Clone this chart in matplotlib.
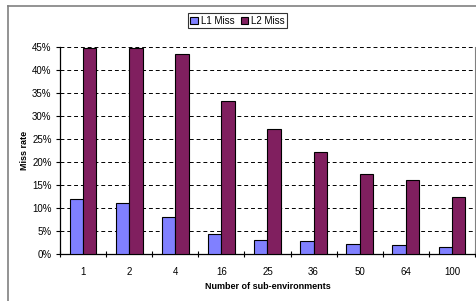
import numpy as np
import matplotlib
matplotlib.use("Agg")
import matplotlib.pyplot as plt
from matplotlib.lines import Line2D

plt.rcParams['font.family'] = ['Liberation Sans', 'DejaVu Sans']

# data
categories = ['1', '2', '4', '16', '25', '36', '50', '64', '100']
l1_miss = [12.0, 11.2, 8.1, 4.3, 3.2, 2.9, 2.2, 2.1, 1.6]
l2_miss = [44.8, 44.8, 43.5, 33.2, 27.2, 22.3, 17.5, 16.2, 12.4]

fig = plt.figure(figsize=(4.77, 3.01), dpi=100)
ax = fig.add_axes([60/477, 1 - 254.3/301, 415/477, 207.3/301])

x = np.arange(len(categories))
w = 0.29
ax.bar(x - w/2, l1_miss, w, color='#8080FF', edgecolor='black', linewidth=0.8, label='L1 Miss', zorder=3)
ax.bar(x + w/2, l2_miss, w, color='#801F5F', edgecolor='black', linewidth=0.8, label='L2 Miss', zorder=3)

ax.set_xlim(-0.5, len(categories) - 0.5)
ax.set_ylim(0, 45)
ax.set_yticks(np.arange(0, 46, 5))
ax.set_yticklabels([f'{v}%' for v in range(0, 46, 5)], fontsize=7)
ax.set_xticks(x)
ax.set_xticklabels(categories, fontsize=7)
ax.set_xticks(np.arange(-0.5, len(categories)), minor=True)
ax.tick_params(axis='x', which='major', length=0, pad=9)
ax.tick_params(axis='x', which='minor', length=5, direction='inout', width=0.8)
ax.tick_params(axis='y', length=3, width=0.8, pad=3)

for v in range(5, 46, 5):
    ax.axhline(v, color='black', linestyle=(0, (4, 3)), linewidth=0.7, zorder=1)

ax.spines['top'].set_visible(False)
ax.spines['right'].set_color('#808080')
ax.spines['left'].set_linewidth(0.9)
ax.spines['bottom'].set_linewidth(0.9)

ax.set_ylabel('Miss rate', fontsize=6.5, fontweight='bold', labelpad=2)
ax.set_xlabel('Number of sub-environments', fontsize=6.5, fontweight='bold', labelpad=4)

leg = ax.legend(loc='lower center', bbox_to_anchor=(0.428, 1.09), ncol=2, fontsize=7,
                frameon=True, fancybox=False, edgecolor='black', handlelength=0.8,
                handleheight=0.8, handletextpad=0.3, columnspacing=0.6, borderpad=0.25,
                borderaxespad=0)
leg.get_frame().set_linewidth(0.8)

# chart border (left and top edges visible)
fig.add_artist(Line2D([8/477, 8/477], [0, 1 - 6/301], color='#808080', linewidth=1.2))
fig.add_artist(Line2D([8/477, 1], [1 - 6/301, 1 - 6/301], color='#808080', linewidth=1.2))

fig.savefig('out.png', dpi=100)
